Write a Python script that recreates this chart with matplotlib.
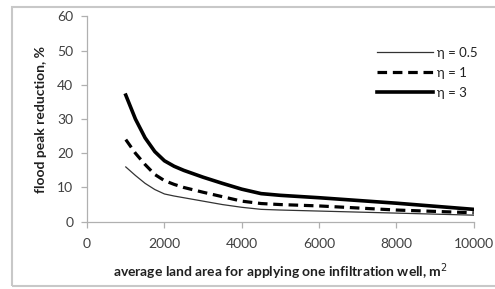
import matplotlib
matplotlib.use("Agg")
import matplotlib.pyplot as plt
from matplotlib.patches import Rectangle

# average land area per infiltration well, m2
area = [1000, 1250, 1500, 1750, 2000, 2250, 2500, 3000, 3500, 4000, 4500, 5000, 6000, 7000, 8000, 9000, 10000]
# flood peak reduction, %
eta_05 = [16, 13.5, 11.2, 9.4, 8.1, 7.5, 7, 6, 5, 4.2, 3.6, 3.4, 3.1, 2.8, 2.5, 2.2, 1.9]
eta_1 = [24, 20, 16.7, 13.8, 12, 10.9, 10, 8.6, 7.3, 6, 5.3, 5, 4.6, 4, 3.4, 3, 2.6]
eta_3 = [37, 30, 24.5, 20.5, 17.8, 16.2, 15, 13, 11.2, 9.5, 8.2, 7.7, 7, 6.2, 5.4, 4.5, 3.6]
labels = ["\u03b7 = 0.5", "\u03b7 = 1", "\u03b7 = 3"]

plt.rcParams['font.family'] = ['Lato', 'DejaVu Sans']

fig = plt.figure(figsize=(4.95, 2.89), dpi=100)
ax = fig.add_axes([0.176, 0.233, 0.781, 0.710])

ax.plot(area, eta_05, color='#333333', lw=0.9, label=labels[0])
ax.plot(area, eta_1, color='black', lw=2.3, ls=(0, (3, 1.8)), label=labels[1])
ax.plot(area, eta_3, color='black', lw=2.6, label=labels[2])

ax.set_xlim(0, 10000)
ax.set_ylim(0, 60)
ax.set_xticks(range(0, 10001, 2000))
ax.set_yticks(range(0, 61, 10))
for s in ['top', 'right']:
    ax.spines[s].set_visible(False)
for s in ['left', 'bottom']:
    ax.spines[s].set_color('#b0b0b0')
    ax.spines[s].set_linewidth(0.9)
ax.tick_params(colors='#b0b0b0', labelcolor='#404040', labelsize=10, length=4, width=0.9)
ax.tick_params(axis='x', pad=8)
ax.tick_params(axis='y', pad=6)

ax.set_xlabel("average land area for applying one infiltration well, m$^2$",
              fontsize=10, fontweight='bold', color='#202020', labelpad=8)
ax.set_ylabel("flood peak reduction, %", fontsize=10, fontweight='bold',
              color='#202020', labelpad=7)

leg = ax.legend(loc='upper left', bbox_to_anchor=(0.72, 0.91), frameon=False,
                fontsize=9.5, handlelength=4.2, handletextpad=0.3, labelspacing=0.6)
for t in leg.get_texts():
    t.set_color('#202020')

fig.patches.append(Rectangle((12 / 495, 3 / 289), 490 / 495, 279 / 289,
                             transform=fig.transFigure, fill=False,
                             edgecolor='#c8c8c8', lw=1.5))

fig.savefig("out.png", dpi=100)
